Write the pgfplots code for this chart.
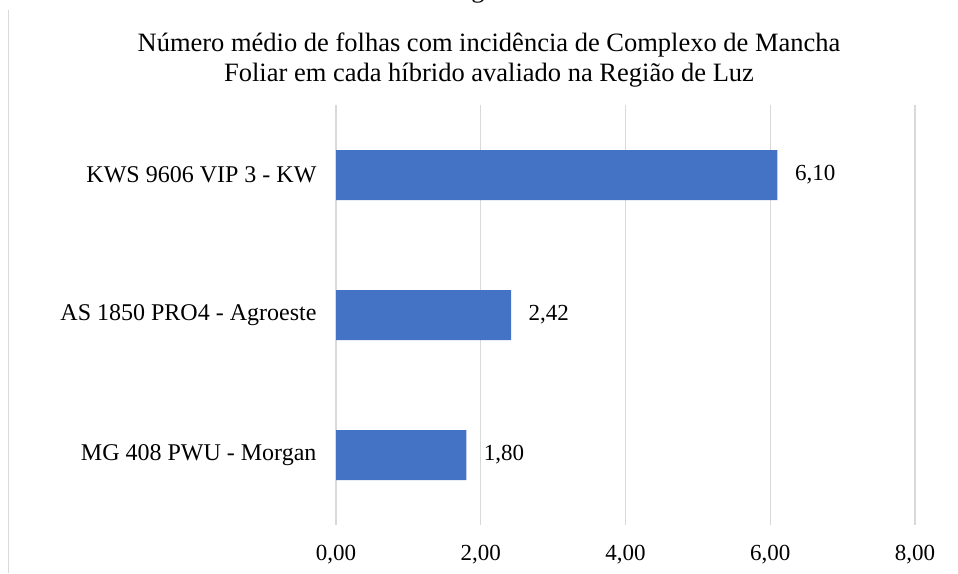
\documentclass[border=0pt]{standalone}
\usepackage{fontspec}
\setmainfont{Liberation Serif}
\usepackage{pgfplots}
\pgfplotsset{compat=1.18}
\definecolor{barblue}{HTML}{4472C4}
\definecolor{gridgray}{HTML}{D9D9D9}
\begin{document}
\begin{tikzpicture}[x=1pt,y=1pt]
\path[use as bounding box] (0,0) rectangle (958,573);
\draw[gridgray, line width=1.5pt] (8.5,0) -- (8.5,563);
\begin{scope}
\clip (0,0) rectangle (958,573);
\node[font=\fontsize{26.5}{30}\selectfont, anchor=base, inner sep=0pt] at (478,575.5) {g};
\end{scope}
\node[font=\fontsize{26.5}{30}\selectfont, anchor=base] at (489,521) {Número médio de folhas com incidência de Complexo de Mancha};
\node[font=\fontsize{26.5}{30}\selectfont, anchor=base] at (489,491) {Foliar em cada híbrido avaliado na Região de Luz};
\begin{axis}[
  at={(336pt,48pt)}, anchor=south west,
  width=579pt, height=420pt, scale only axis,
  xbar, bar width=50pt,
  xmin=0, xmax=8, ymin=0.5, ymax=3.5,
  y dir=reverse,
  ytick={1,2,3},
  yticklabels={KWS 9606 VIP 3 - KW, AS 1850 PRO4 - Agroeste, MG 408 PWU - Morgan},
  xtick={0,2,4,6,8},
  xmajorgrids, grid style={gridgray, line width=1.2pt},
  axis line style={draw=none},
  major tick length=0pt,
  xticklabel style={font=\fontsize{23}{27}\selectfont, anchor=base, yshift=-35pt},
  yticklabel style={font=\fontsize{24}{28}\selectfont, xshift=-16pt},
  /pgf/number format/.cd, use comma, fixed, fixed zerofill, precision=2, assume math mode=true,
  /pgfplots/.cd,
  nodes near coords,
  nodes near coords style={font=\fontsize{23}{27}\selectfont, black, anchor=west, xshift=14pt, /pgf/number format/.cd, use comma, fixed, fixed zerofill, precision=2, assume math mode=true},
]
\addplot[fill=barblue, draw=none] coordinates {(6.10,1) (2.42,2) (1.80,3)};
\end{axis}
\end{tikzpicture}
\end{document}
